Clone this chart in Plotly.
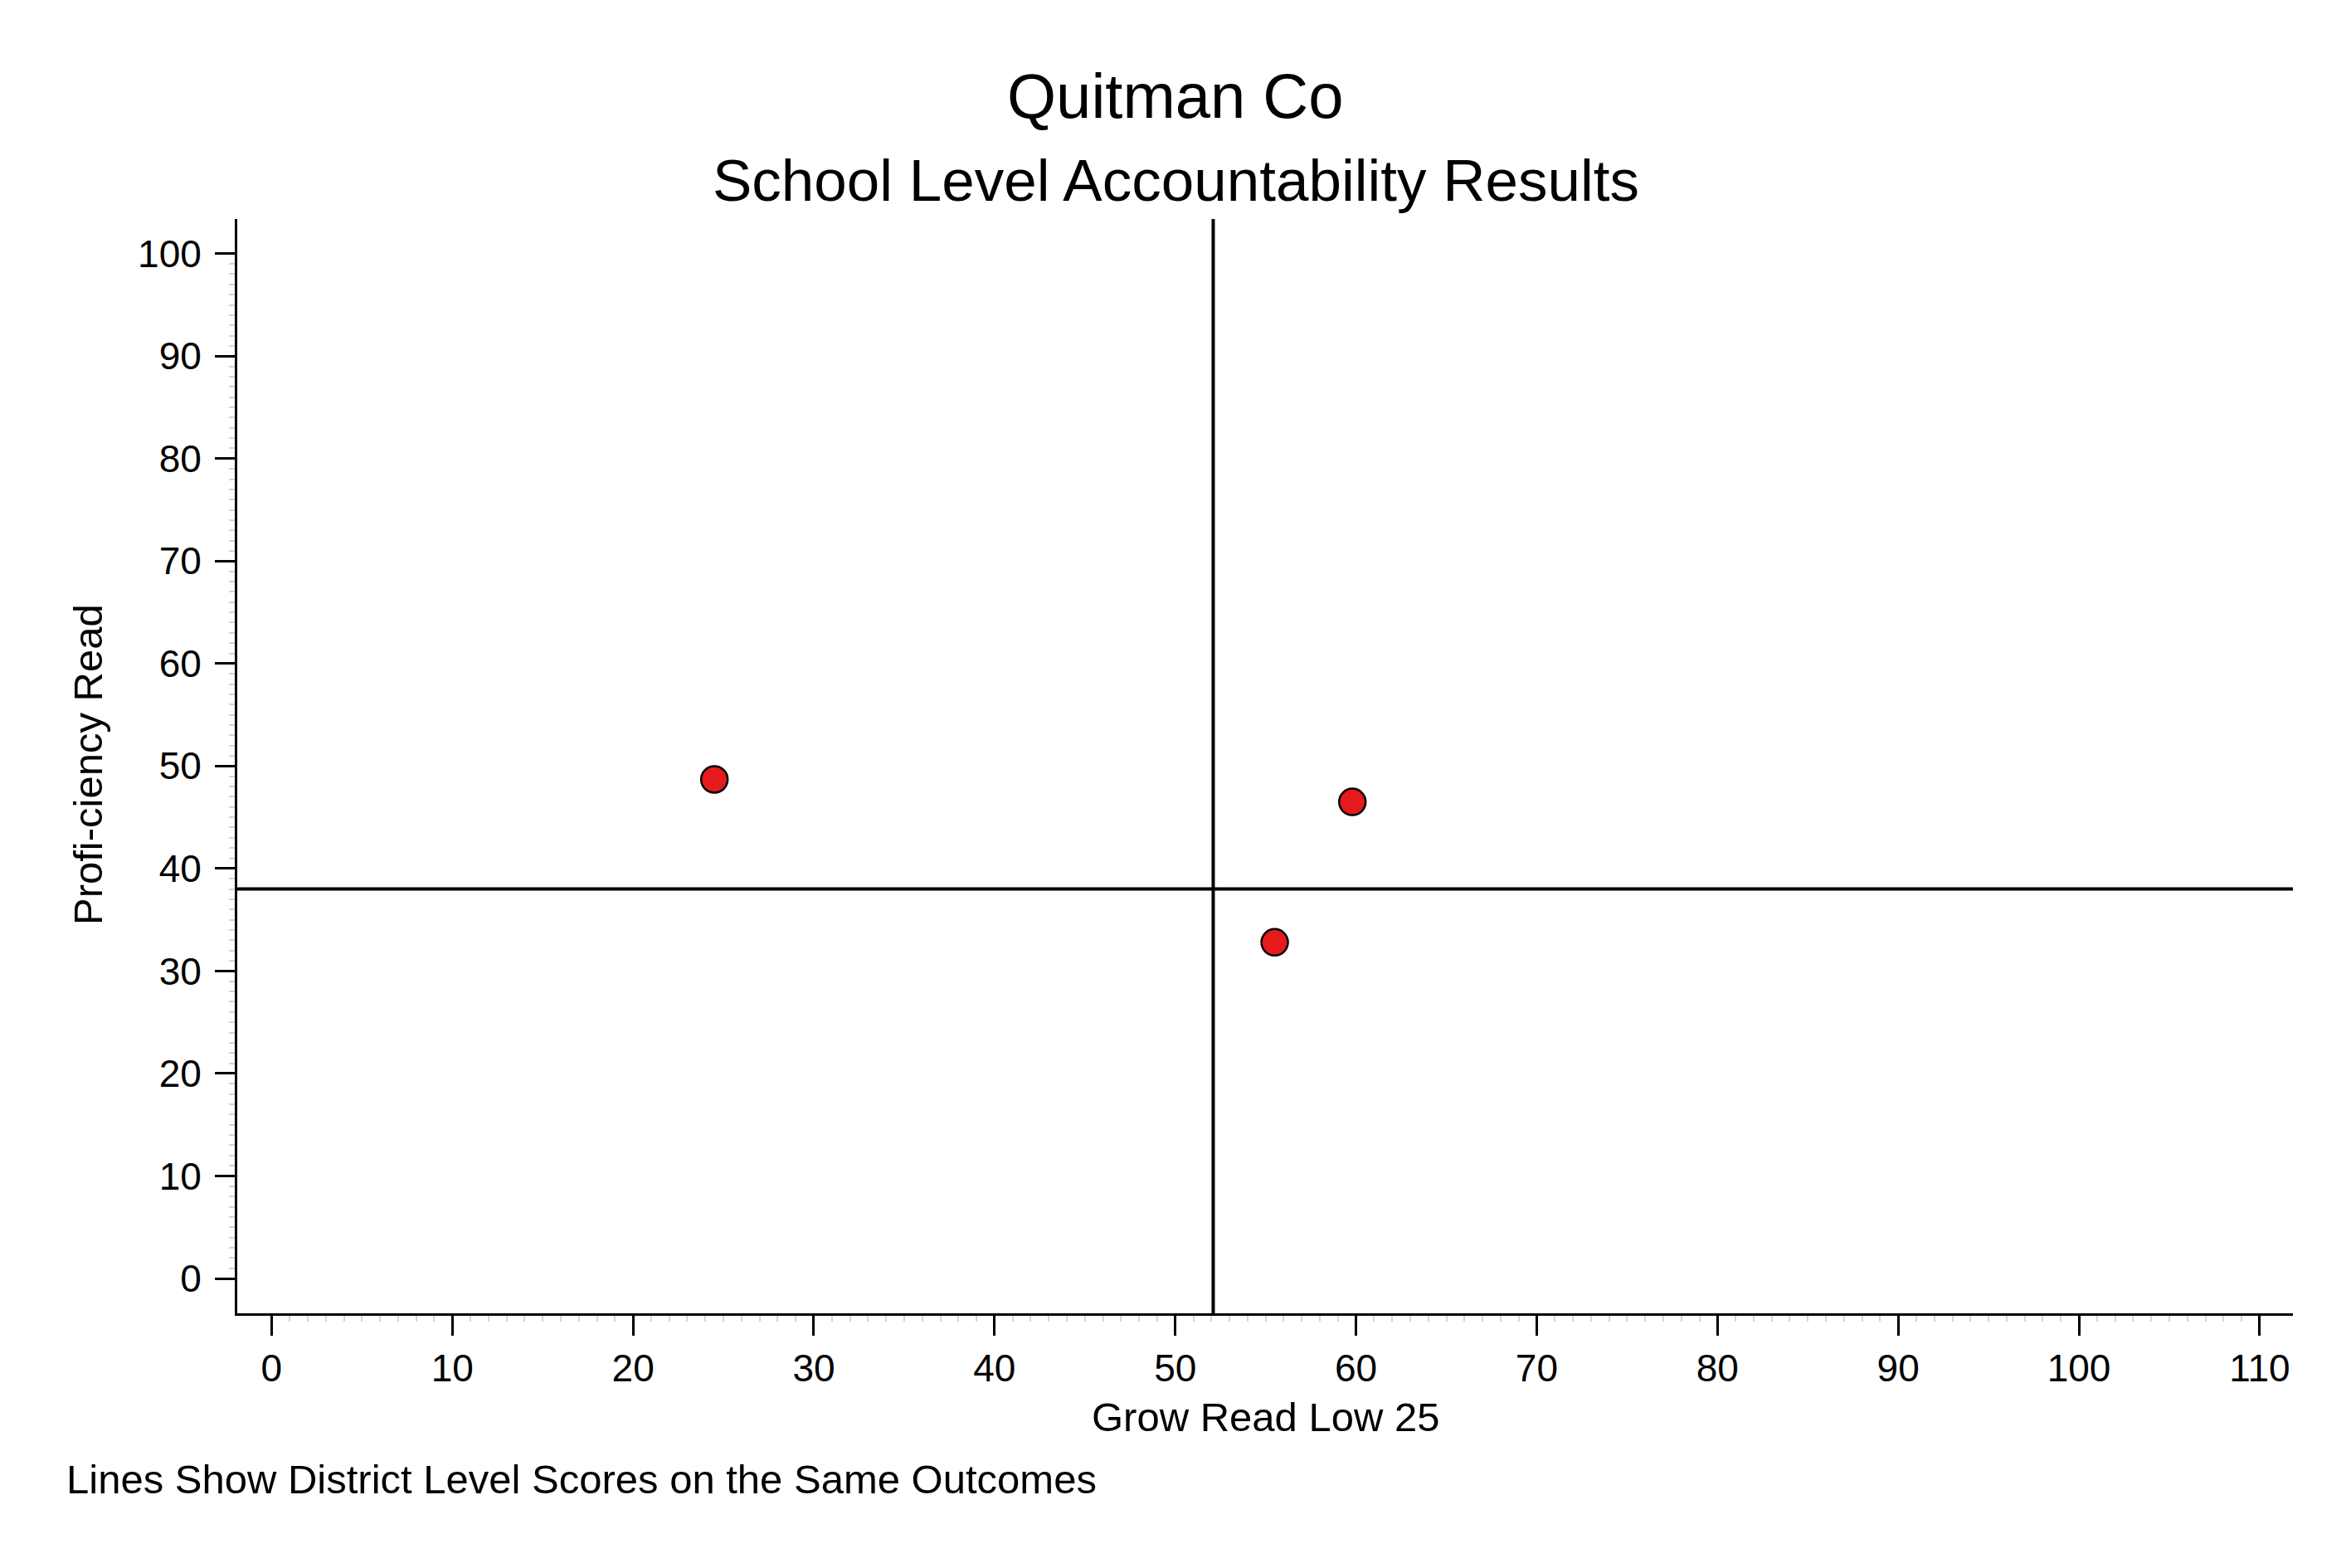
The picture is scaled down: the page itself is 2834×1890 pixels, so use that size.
import plotly.graph_objects as go

# school points (growth of lowest 25% in reading vs reading proficiency)
grow_read_low25 = [24.5, 59.8, 55.5]
prof_read = [48.7, 46.5, 32.8]

# district level reference values
district_grow = 52.1
district_prof = 38.0

x_ticks = list(range(0, 111, 10))
y_ticks = list(range(0, 101, 10))

# page body has an 8px default margin, so the figure is a bit smaller
OFF = 8
W, H = 2834 - 2 * OFF, 1890 - 2 * OFF
L, T = 286 - OFF, 264 - OFF
R = W - (2764 - OFF)
B = H - (1583 - OFF)
FONT = "Liberation Sans"


def px(xp):
    return (xp - OFF - L) / (W - L - R)


def py(yp):
    return (H - B - (yp - OFF)) / (H - T - B)


fig = go.Figure()

fig.add_trace(go.Scatter(
    x=grow_read_low25, y=prof_read, mode="markers",
    marker=dict(size=32, color="#E41A1C", line=dict(color="black", width=2.5)),
    showlegend=False, hoverinfo="skip"))

fig.add_vline(x=district_grow, line=dict(color="black", width=4), layer="below")
fig.add_hline(y=district_prof, line=dict(color="black", width=4), layer="below")

axis_common = dict(
    showgrid=False, zeroline=False, showline=True, linecolor="black", linewidth=3,
    ticks="outside", ticklen=24, tickwidth=2.5, tickcolor="black",
    tickfont=dict(family=FONT, size=46, color="black"),
)

fig.update_xaxes(range=[-1.9, 111.84], tickvals=x_ticks,
                 minor=dict(tickvals=list(range(0, 111)), ticks="outside", ticklen=7,
                            tickwidth=1.5, tickcolor="#d4d4d4"),
                 **axis_common)
fig.update_yaxes(range=[-3.4, 103.38], tickvals=y_ticks, ticklabelstandoff=7,
                 minor=dict(tickvals=list(range(0, 101)), ticks="outside", ticklen=7,
                            tickwidth=1.5, tickcolor="#d4d4d4"),
                 **axis_common)

texts = [
    ("Quitman Co", 1417, 115, 76, 0, "center"),
    ("School Level Accountability Results", 1417, 217, 71, 0, "center"),
    ("Grow Read Low 25", 1525, 1708, 49, 0, "center"),
    ("Lines Show District Level Scores on the Same Outcomes", 78, 1783, 49, 0, "left"),
    ("Profi-ciency Read", 106, 922, 49, -90, "center"),
]
for txt, xp, yp, size, ang, anchor in texts:
    fig.add_annotation(text=txt, xref="paper", yref="paper", x=px(xp), y=py(yp),
                       xanchor=anchor, yanchor="middle", textangle=ang, showarrow=False,
                       font=dict(family=FONT, size=size, color="black"))

fig.update_layout(
    width=W, height=H,
    margin=dict(l=L, r=R, t=T, b=B),
    paper_bgcolor="white", plot_bgcolor="white",
    font=dict(family=FONT, color="black"),
)

fig.write_html("out.html")
